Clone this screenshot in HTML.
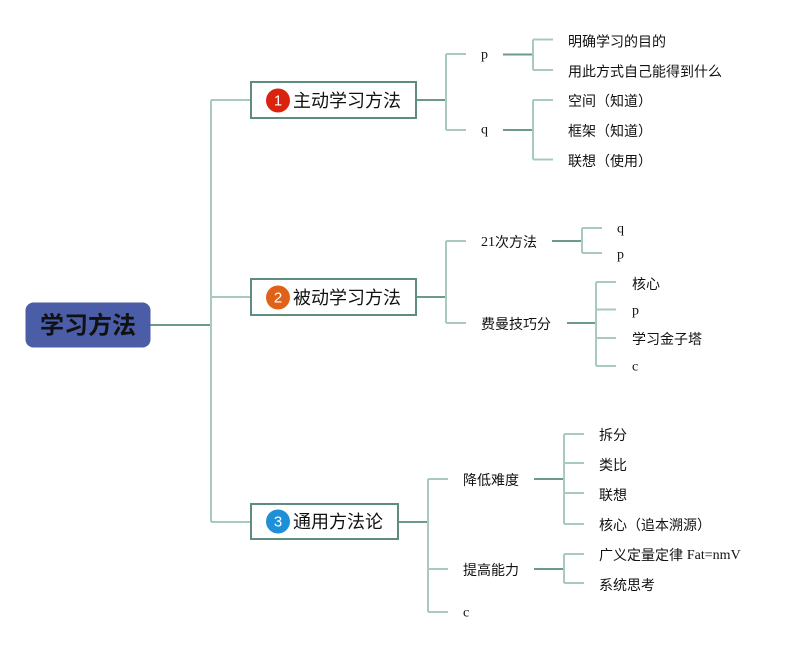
<!DOCTYPE html>
<html><head><meta charset="utf-8"><style>
html,body{margin:0;padding:0;background:#fff;}
svg{display:block;}
.t{font-family:"Liberation Sans","Noto Sans CJK SC",sans-serif;font-size:14px;fill:#111;dominant-baseline:central;}
.s{font-family:"Liberation Serif","Noto Sans CJK SC",serif;font-size:14px;fill:#111;dominant-baseline:central;}
.b{font-family:"Liberation Sans","Noto Sans CJK SC",sans-serif;font-size:18px;fill:#111;dominant-baseline:central;}
.l{stroke:#a8c9bd;stroke-width:2;fill:none;}
.d{stroke:#6c9a8b;stroke-width:2;fill:none;}
</style></head><body>
<svg width="801" height="650" viewBox="0 0 801 650" xmlns="http://www.w3.org/2000/svg">
<!-- trunk -->
<path class="d" d="M150 325H211"/>
<path class="l" d="M211 100V522M211 100H251M211 297H251M211 522H251"/>

<!-- root -->
<rect x="25.5" y="302.5" width="125" height="45" rx="8" fill="#4a5da6"/>
<text x="88" y="326" text-anchor="middle" style="font-family:'Liberation Sans','Noto Sans CJK SC',sans-serif;font-size:24px;font-weight:bold;fill:#111;dominant-baseline:central;">学习方法</text>

<!-- branch 1 -->
<rect x="251" y="82" width="165" height="36" fill="#fff" stroke="#5e8c7e" stroke-width="2"/>
<circle cx="278" cy="100.5" r="12" fill="#d9230f"/>
<text x="278" y="101" text-anchor="middle" style="font-family:'Liberation Sans',sans-serif;font-size:15px;fill:#fff;dominant-baseline:central;">1</text>
<text class="b" x="293" y="101">主动学习方法</text>
<path class="d" d="M417 100H446"/>
<path class="l" d="M446 54V130M446 54H466M446 130H466"/>
<text class="s" x="481" y="55">p</text>
<text class="s" x="481" y="130">q</text>
<path class="d" d="M503 54.5H533M503 130H533"/>
<path class="l" d="M533 39.5V70M533 39.5H553M533 70H553"/>
<path class="l" d="M533 100V159.5M533 100H553M533 159.5H553"/>
<text class="t" x="568" y="41.5">明确学习的目的</text>
<text class="t" x="568" y="71.5">用此方式自己能得到什么</text>
<text class="t" x="568" y="101">空间（知道）</text>
<text class="t" x="568" y="131">框架（知道）</text>
<text class="t" x="568" y="161">联想（使用）</text>

<!-- branch 2 -->
<rect x="251" y="279" width="165" height="36" fill="#fff" stroke="#5e8c7e" stroke-width="2"/>
<circle cx="278" cy="297.5" r="12" fill="#e0621a"/>
<text x="278" y="298" text-anchor="middle" style="font-family:'Liberation Sans',sans-serif;font-size:15px;fill:#fff;dominant-baseline:central;">2</text>
<text class="b" x="293" y="298">被动学习方法</text>
<path class="d" d="M417 297H446"/>
<path class="l" d="M446 241V323M446 241H466M446 323H466"/>
<text class="t" x="481" y="242"><tspan style="font-family:'Liberation Serif',serif">21</tspan>次方法</text>
<text class="t" x="481" y="324">费曼技巧分</text>
<path class="d" d="M552 241H582M567 323H596"/>
<path class="l" d="M582 228V253M582 228H602M582 253H602"/>
<text class="s" x="617" y="229">q</text>
<text class="s" x="617" y="255">p</text>
<path class="l" d="M596 282V366M596 282H616M596 309.5H616M596 338H616M596 366H616"/>
<text class="t" x="632" y="284">核心</text>
<text class="s" x="632" y="311">p</text>
<text class="t" x="632" y="339">学习金子塔</text>
<text class="s" x="632" y="367">c</text>

<!-- branch 3 -->
<rect x="251" y="504" width="147" height="35" fill="#fff" stroke="#5e8c7e" stroke-width="2"/>
<circle cx="278" cy="521.5" r="12" fill="#1e90d8"/>
<text x="278" y="522" text-anchor="middle" style="font-family:'Liberation Sans',sans-serif;font-size:15px;fill:#fff;dominant-baseline:central;">3</text>
<text class="b" x="293" y="522">通用方法论</text>
<path class="d" d="M399 522H428"/>
<path class="l" d="M428 479V612M428 479H448M428 569H448M428 612H448"/>
<text class="t" x="463" y="480">降低难度</text>
<text class="t" x="463" y="570">提高能力</text>
<text class="s" x="463" y="613">c</text>
<path class="d" d="M534 479H564M534 569H564"/>
<path class="l" d="M564 434V524M564 434H584M564 463H584M564 493H584M564 524H584"/>
<path class="l" d="M564 554V583M564 554H584M564 583H584"/>
<text class="t" x="599" y="435">拆分</text>
<text class="t" x="599" y="465">类比</text>
<text class="t" x="599" y="495">联想</text>
<text class="t" x="599" y="525">核心（追本溯源）</text>
<text class="t" x="599" y="555">广义定量定律 <tspan style="font-family:'Liberation Serif',serif">Fat=nmV</tspan></text>
<text class="t" x="599" y="585">系统思考</text>
</svg>
</body></html>
